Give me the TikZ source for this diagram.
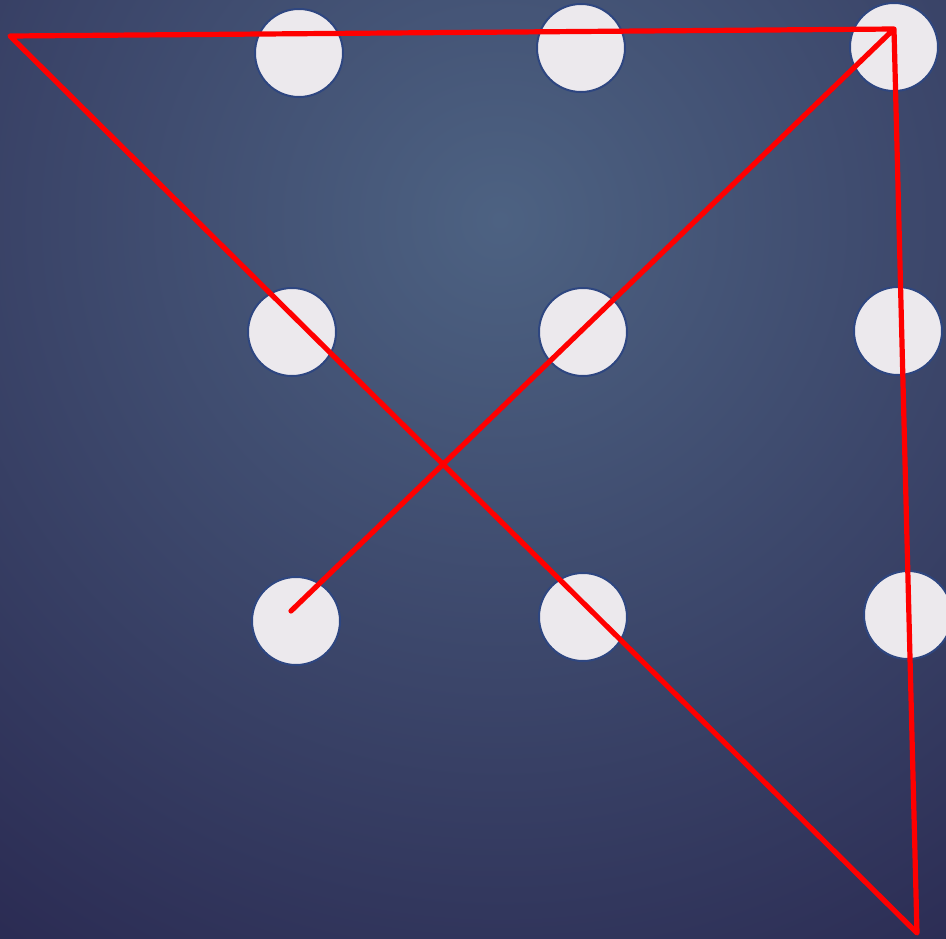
\documentclass[tikz,border=0pt]{standalone}
\usepackage{xcolor}
\definecolor{bgin}{HTML}{4D6282}
\definecolor{bgout}{HTML}{2A2A52}
\definecolor{dotfill}{HTML}{ECE9ED}
\definecolor{dotrim}{HTML}{2E4680}
\definecolor{path}{HTML}{FF0000}
\begin{document}
\begin{tikzpicture}[x=1pt,y=-1pt,
  dot/.style={circle,fill=dotfill,draw=dotrim,line width=2pt,minimum size=88pt,inner sep=0pt},
  redline/.style={draw=path,line width=5.2pt,line cap=round,line join=round}]
\useasboundingbox (0,0) rectangle (946,938);
\begin{scope}
\clip (0,0) rectangle (946,938);
\fill[bgout] (0,0) rectangle (946,938);
\shade[inner color=bgin,outer color=bgout] (500,220) circle (900);
\end{scope}
\node[dot] (d11) at (299,53) {};
\node[dot] (d12) at (581,48) {};
\node[dot] (d13) at (894,47) {};
\node[dot] (d21) at (292,332) {};
\node[dot] (d22) at (583,332) {};
\node[dot] (d23) at (898,331) {};
\node[dot] (d31) at (296,621) {};
\node[dot] (d32) at (583,617) {};
\node[dot] (d33) at (908,615) {};
\coordinate (p0) at (291,611);
\coordinate (p1) at (894,29);
\coordinate (p2) at (10,36);
\coordinate (p3) at (917,933);
\draw[redline] (p0) -- (p1) -- (p2) -- (p3) -- (p1);
\end{tikzpicture}
\end{document}
